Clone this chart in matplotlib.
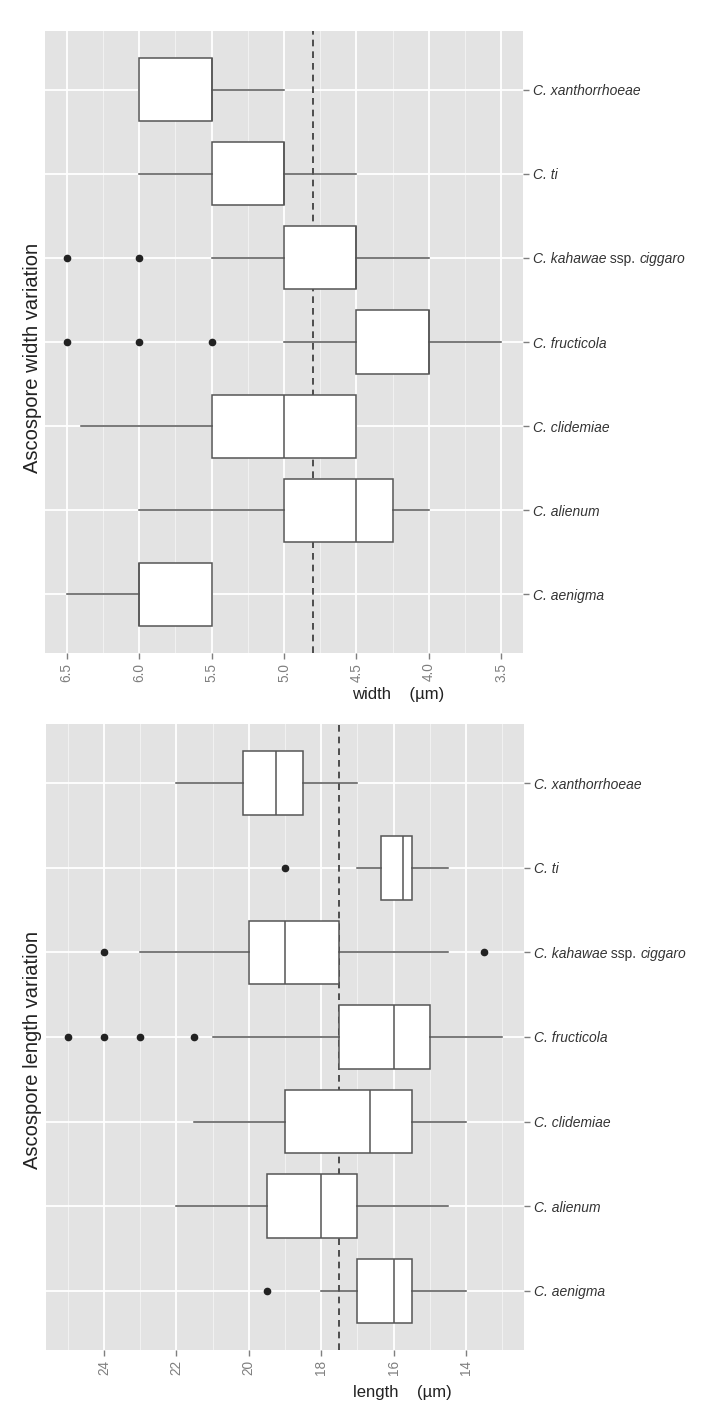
import numpy as np
import matplotlib
matplotlib.use('Agg')
import matplotlib.pyplot as plt

plt.rcParams['font.family'] = ['Liberation Sans', 'DejaVu Sans']

#%% data (bottom -> top)
species = ['C. aenigma', 'C. alienum', 'C. clidemiae', 'C. fructicola',
           'C. kahawae ssp. ciggaro', 'C. ti', 'C. xanthorrhoeae']

# ascospore width (um)
w_lo  = [5.5, 4.0, 4.5, 3.5, 4.0, 4.5, 5.0]
w_q1  = [5.5, 4.25, 4.5, 4.0, 4.5, 5.0, 5.5]
w_med = [6.0, 4.5, 5.0, 4.0, 4.5, 5.0, 5.5]
w_q3  = [6.0, 5.0, 5.5, 4.5, 5.0, 5.5, 6.0]
w_hi  = [6.5, 6.0, 6.4, 5.0, 5.5, 6.0, 6.0]
w_out = [[], [], [], [5.5, 6.0, 6.5], [6.0, 6.5], [], []]
w_mean = 4.8
w_ticks = [6.5, 6.0, 5.5, 5.0, 4.5, 4.0, 3.5]

# ascospore length (um)
l_lo  = [14.0, 14.5, 14.0, 13.0, 14.5, 14.5, 17.0]
l_q1  = [15.5, 17.0, 15.5, 15.0, 17.5, 15.5, 18.5]
l_med = [16.0, 18.0, 16.65, 16.0, 19.0, 15.75, 19.25]
l_q3  = [17.0, 19.5, 19.0, 17.5, 20.0, 16.35, 20.15]
l_hi  = [18.0, 22.0, 21.5, 21.0, 23.0, 17.0, 22.0]
l_out = [[19.5], [], [], [21.5, 23.0, 24.0, 25.0], [13.5, 24.0], [19.0], []]
l_mean = 17.5
l_ticks = [24, 22, 20, 18, 16, 14]

LBL = dict(fontsize=10, color='#333333')

#%% funkcije
def makeStats(lo, q1, med, q3, hi, out):
    st = []
    for i in range(len(lo)):
        st.append({'whislo': lo[i], 'q1': q1[i], 'med': med[i], 'q3': q3[i],
                   'whishi': hi[i], 'fliers': out[i]})
    return st


def drawPanel(ax, stats, mean, ticks, minor, xlim):
    ax.set_facecolor('#e3e3e3')
    for s in ax.spines.values():
        s.set_visible(False)
    pos = np.arange(1, len(stats) + 1)
    ax.axvline(mean, color='#333333', lw=1.2, ls=(0, (4, 3)), zorder=1)
    ax.bxp(stats, positions=pos, widths=0.75, orientation='horizontal',
           showcaps=False, patch_artist=True, manage_ticks=False,
           boxprops=dict(facecolor='white', edgecolor='#555555', lw=1.1),
           whiskerprops=dict(color='#555555', lw=1.1),
           medianprops=dict(color='#555555', lw=1.1),
           flierprops=dict(marker='o', markersize=4.5, markerfacecolor='#222222',
                           markeredgecolor='#222222'),
           zorder=2)
    ax.set_xlim(xlim)
    ax.set_ylim(0.3, len(stats) + 0.7)
    ax.set_xticks(ticks)
    ax.set_xticks(minor, minor=True)
    ax.set_yticks(pos)
    ax.grid(True, which='major', color='white', lw=1.3, zorder=0)
    ax.grid(True, which='minor', axis='x', color='#f2f2f2', lw=0.7, zorder=0)
    ax.set_axisbelow(True)
    ax.yaxis.tick_right()
    # 'ssp.' ni v lezecem tisku -> tick label samo prvi del, ostalo dodamo zraven
    first = [s.split(' ssp. ')[0] for s in species]
    ax.set_yticklabels(first, fontstyle='italic', **LBL)
    ax.set_xticklabels([('%d' % t) if isinstance(t, int) else ('%.1f' % t) for t in ticks],
                       rotation=90, fontsize=9.8, color='#7f7f7f')
    ax.tick_params(axis='both', which='major', color='#7f7f7f', length=4, width=1, pad=3)
    ax.tick_params(axis='x', which='minor', length=0)
    for lab, s in zip(ax.get_yticklabels(), species):
        if ' ssp. ' in s:
            a = ax.annotate(' ssp. ', xy=(1, 0), xycoords=lab, va='bottom', ha='left',
                            fontstyle='normal', annotation_clip=False, **LBL)
            ax.annotate(s.split(' ssp. ')[1], xy=(1, 0), xycoords=a, va='bottom',
                        ha='left', fontstyle='italic', annotation_clip=False, **LBL)


#%%
fig = plt.figure(figsize=(7.24, 14.16), dpi=100)
W, H = 724.0, 1416.0

ax1 = fig.add_axes([45 / W, 1 - 653 / H, 478 / W, 622 / H])
drawPanel(ax1, makeStats(w_lo, w_q1, w_med, w_q3, w_hi, w_out), w_mean, w_ticks,
          [6.25, 5.75, 5.25, 4.75, 4.25, 3.75], (6.65, 3.35))

ax2 = fig.add_axes([46 / W, 1 - 1350 / H, 478 / W, 626 / H])
drawPanel(ax2, makeStats(l_lo, l_q1, l_med, l_q3, l_hi, l_out), l_mean, l_ticks,
          [25, 23, 21, 19, 17, 15, 13], (25.6, 12.4))

fig.text(398 / W, 1 - 695 / H, 'width    (\u00b5m)', fontsize=12, color='#222222',
         ha='center', va='center')
fig.text(402 / W, 1 - 1392 / H, 'length    (\u00b5m)', fontsize=12, color='#222222',
         ha='center', va='center')
fig.text(33 / W, 1 - 358 / H, 'Ascospore width variation', fontsize=14.5, color='#222222',
         rotation=90, ha='center', va='center')
fig.text(33 / W, 1 - 1050 / H, 'Ascospore length variation', fontsize=14.5, color='#222222',
         rotation=90, ha='center', va='center')

fig.savefig('out.png', dpi=100, facecolor='white')
